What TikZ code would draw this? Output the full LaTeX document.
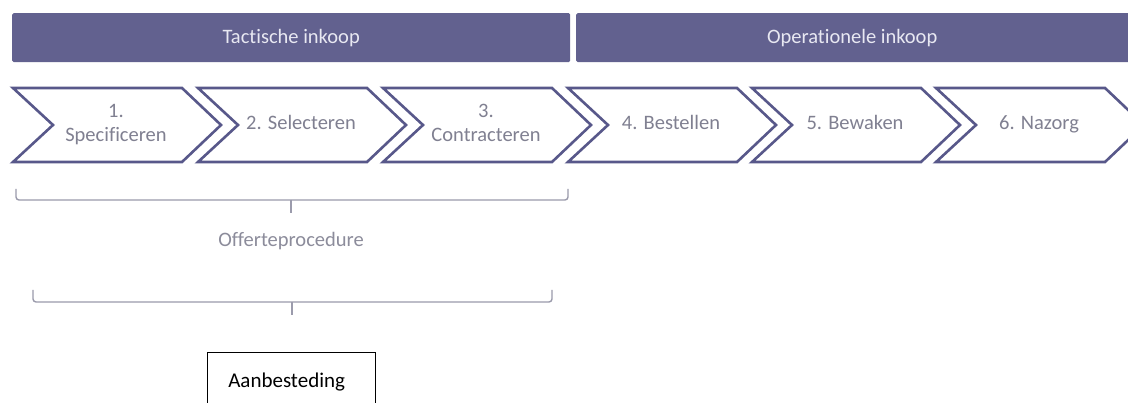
\documentclass[tikz,border=0pt]{standalone}
\usepackage{fontspec}
\setmainfont{Carlito}[Ligatures={NoCommon,NoRequired,NoContextual}]
\definecolor{barfill}{RGB}{98,97,143}
\definecolor{chevline}{RGB}{88,88,138}
\definecolor{chevtext}{RGB}{128,128,145}
\definecolor{bartext}{RGB}{232,232,242}
\definecolor{bracecol}{RGB}{155,155,172}
\definecolor{offtext}{RGB}{140,140,155}
\tikzset{
  barbox/.style={fill=barfill, draw=none, rounded corners=1.5pt, inner sep=0pt, anchor=north west,
    minimum height=49pt, text=bartext, font=\fontsize{20.5}{24}\selectfont},
  chevshape/.style={draw=chevline, line width=2.6pt, fill=white, line join=miter},
  chevlabel/.style={text=chevtext, font=\fontsize{20.5}{24}\selectfont, align=center, inner sep=0pt},
  bracket/.style={draw=bracecol, line width=1.4pt, rounded corners=3pt},
  offlabel/.style={text=offtext, font=\fontsize{20.5}{24}\selectfont, inner sep=0pt},
  aanbox/.style={draw=black, line width=1.3pt, inner sep=0pt, anchor=north west,
    minimum width=168pt, minimum height=58pt, font=\fontsize{21}{25}\selectfont, text=black}
}
\begin{document}
\begin{tikzpicture}[x=1pt,y=-1pt]
\clip (0,0) rectangle (1128,403);
\fill[white] (0,0) rectangle (1128,403);
% header bars
\node[barbox, minimum width=558pt] (bar1) at (12,13) {Tactische inkoop};
\node[barbox, minimum width=560pt] (bar2) at (576,13) {\hspace*{-8pt}Operationele inkoop};
% chevrons
\foreach \xo/\nm/\txt in {13/c1/{1.\strut\\Specificeren\strut}, 198/c2/{2. Selecteren\strut}, 383/c3/{3.\strut\\Contracteren\strut},
                          568/c4/{4. Bestellen\strut}, 752/c5/{5. Bewaken\strut}, 936/c6/{6. Nazorg\strut}} {
  \draw[chevshape] (\xo,88) -- ++(169,0) -- ++(39,37) -- ++(-39,37) -- ++(-169,0) -- ++(40,-37) -- cycle;
  \node[chevlabel] (\nm) at (\xo+103,125) {\txt};
}
% first bracket
\coordinate (b1l) at (16,189);
\coordinate (b1r) at (568,189);
\coordinate (b1m) at (291,200);
\coordinate (b1t) at (291,213);
\draw[bracket] (b1l) -- (16,200) -- (568,200) -- (b1r);
\draw[bracket, rounded corners=0pt] (b1m) -- (b1t);
\node[offlabel] (off) at (291,241) {Offerteprocedure};
% second bracket
\coordinate (b2l) at (33,290);
\coordinate (b2r) at (552,290);
\coordinate (b2m) at (292,302);
\coordinate (b2t) at (292,315);
\draw[bracket] (b2l) -- (33,302) -- (552,302) -- (b2r);
\draw[bracket, rounded corners=0pt] (b2m) -- (b2t);
% Aanbesteding box
\node[aanbox] (aan) at (207,352) {\hspace*{-10pt}Aanbesteding};
\end{tikzpicture}
\end{document}
